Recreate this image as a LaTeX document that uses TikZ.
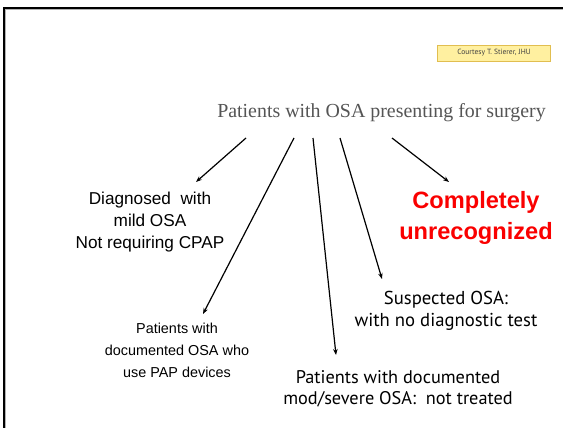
\documentclass[tikz,border=0pt]{standalone}
\usepackage{fontspec}
\setmainfont{Liberation Sans}
\newfontfamily\titlefont{Liberation Serif}
\newfontfamily\gillfont{PT Sans}
\usetikzlibrary{arrows.meta}
\definecolor{titlegray}{RGB}{85,85,85}
\definecolor{notered}{RGB}{250,0,0}
\definecolor{notefill}{RGB}{255,240,160}
\definecolor{noteedge}{RGB}{225,190,80}
\tikzset{
  arr/.style={line width=1.2pt,-{Stealth[length=6pt,width=4.5pt]}},
  arialtxt/.style={align=center,font=\fontsize{17.2}{22}\selectfont,inner sep=0pt},
  gilltxt/.style={align=center,font=\gillfont\fontsize{16}{22}\selectfont,inner sep=0pt},
}
\begin{document}
\begin{tikzpicture}[x=1pt,y=-1pt]
\useasboundingbox (0,0) rectangle (563,428);
\fill[white] (0,0) rectangle (563,428);
% frame
\draw[line width=2.5pt] (3.8,430) -- (3.8,8) -- (565,8);
\draw[gray!60,line width=0.6pt] (5.6,430) -- (5.6,9.8) -- (565,9.8);
% courtesy note
\node[draw=noteedge,fill=notefill,line width=0.8pt,minimum width=113pt,minimum height=16pt,inner sep=0pt,
  font=\gillfont\fontsize{7.5}{9}\selectfont,text=black!75] (note) at (494,53) {Courtesy T. Stierer, JHU};
% title
\node[inner sep=0pt,font=\titlefont\fontsize{19.9}{24}\selectfont,text=titlegray] (title) at (381.5,113) {Patients with OSA presenting for surgery};
% items
\node[arialtxt] (mild) at (150,222) {Diagnosed\ \ with\\mild OSA\\Not requiring CPAP};
\node[arialtxt,font=\bfseries\fontsize{23.6}{31}\selectfont,text=notered] (unrec) at (476,218) {Completely\\unrecognized};
\node[arialtxt,font=\fontsize{14.4}{22}\selectfont] (pap) at (177,350) {Patients with\\documented OSA who\\use PAP devices};
\node[gilltxt,font=\gillfont\fontsize{18.7}{22}\selectfont] (susp) at (446,311) {Suspected OSA:\\with no diagnostic test};
\node[gilltxt,font=\gillfont\fontsize{18.3}{21}\selectfont] (untr) at (398,389) {Patients with documented\\mod/severe OSA:\ \ not treated};
% arrow ends
\coordinate (s1) at (246,138);
\coordinate (s2) at (294,138);
\coordinate (s3) at (313,138);
\coordinate (s4) at (340,138);
\coordinate (s5) at (392,138);
\coordinate (e1) at (196,182);
\coordinate (e2) at (203,314);
\coordinate (e3) at (336,355);
\coordinate (e4) at (382,279);
\coordinate (e5) at (449,182);
\draw[arr] (s1) -- (e1);
\draw[arr] (s2) -- (e2);
\draw[arr] (s3) -- (e3);
\draw[arr] (s4) -- (e4);
\draw[arr] (s5) -- (e5);
\end{tikzpicture}
\end{document}
